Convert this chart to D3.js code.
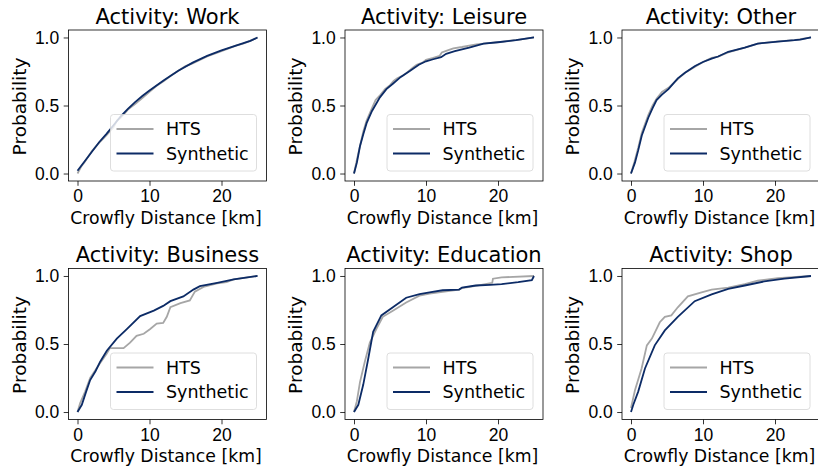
<!DOCTYPE html>
<html>
<head>
<meta charset="utf-8">
<script src="https://cdn.jsdelivr.net/npm/d3@7"></script>
<style>
  body { margin: 0; background: #fff; }
  svg { font-family: "DejaVu Sans", sans-serif; }
  .axis path, .axis line { stroke: #000; stroke-width: 0.8; }
  .axis text { font-size: 17.5px; fill: #000; }
</style>
</head>
<body>
<div id="chart"></div>
<script>
// panel titles, left-to-right, top-to-bottom
var activities = ["Work", "Leisure", "Other", "Business", "Education", "Shop"];

var xTicks = [0, 10, 20];
var yTicks = [0.0, 0.5, 1.0];

// [crowfly distance km, cumulative probability]
var workHts = [[0,0.0],[0.5,0.05],[1,0.085],[2,0.165],[3,0.225],[4,0.28],[5,0.34],[5.5,0.39],[6,0.41],[7,0.47],[8,0.51],[9,0.555],[10,0.6],[11,0.645],[12,0.68],[13,0.72],[14,0.755],[15,0.79],[16,0.81],[18,0.86],[20,0.9],[22,0.94],[23,0.955],[24,0.975],[25,1.0]];
var workSyn = [[0,0.02],[1,0.09],[2,0.16],[3,0.23],[4,0.29],[5,0.355],[6,0.42],[7,0.475],[8,0.525],[9,0.57],[10,0.61],[12,0.685],[14,0.755],[16,0.815],[18,0.865],[20,0.905],[22,0.94],[24,0.975],[25,1.0]];

var leisureHts = [[0,0],[0.4,0.1],[0.9,0.22],[1.3,0.31],[1.75,0.39],[2.5,0.48],[3,0.54],[3.7,0.58],[4.3,0.62],[5,0.65],[5.5,0.68],[6,0.7],[6.8,0.72],[7.3,0.74],[8.2,0.78],[8.7,0.8],[9.5,0.815],[10,0.835],[11,0.85],[11.9,0.865],[12.2,0.89],[13,0.905],[13.8,0.92],[15,0.93],[17,0.95],[19,0.96],[20.7,0.97],[23,0.985],[25,1.0]];
var leisureSyn = [[0,0],[0.4,0.08],[0.83,0.2],[1.3,0.29],[1.75,0.37],[2.5,0.46],[3.6,0.56],[4.5,0.62],[5.4,0.66],[6.5,0.71],[7.8,0.755],[9,0.8],[10,0.825],[11,0.84],[12.1,0.855],[12.8,0.88],[14,0.9],[16,0.925],[18,0.955],[20,0.965],[22.5,0.98],[25,1.0]];

var otherHts = [[0,0],[0.5,0.09],[1,0.19],[1.5,0.3],[2.4,0.43],[3,0.5],[3.55,0.55],[4.3,0.6],[5.2,0.63],[6.5,0.695],[7.5,0.74],[8.9,0.785],[10,0.82],[11.2,0.85],[12.1,0.86],[13.5,0.89],[15.8,0.925],[17.6,0.955],[20.4,0.972],[22.7,0.98],[25,1.0]];
var otherSyn = [[0,0],[0.55,0.08],[1,0.17],[1.5,0.28],[2.4,0.41],[3,0.48],[3.55,0.54],[4.3,0.58],[5.2,0.62],[6.5,0.70],[7.5,0.74],[8.9,0.79],[10,0.82],[11.2,0.845],[12.1,0.86],[13.5,0.895],[15.8,0.925],[17.6,0.955],[20.4,0.97],[22.7,0.98],[23.5,0.985],[25,1.0]];

var businessHts = [[0,0],[0.37,0.066],[1.06,0.15],[1.76,0.25],[3.15,0.36],[4.07,0.43],[4.5,0.47],[6.4,0.47],[7.3,0.51],[8.2,0.56],[9.2,0.575],[10.1,0.61],[11,0.65],[11.9,0.655],[12.4,0.70],[12.9,0.77],[14.3,0.80],[15.6,0.82],[16.3,0.885],[17.5,0.92],[19.4,0.945],[20.7,0.955],[21.7,0.975],[25,1.0]];
var businessSyn = [[0,0],[0.6,0.053],[1.2,0.15],[1.76,0.235],[2.5,0.3],[3.15,0.37],[4.07,0.45],[5.46,0.54],[6.85,0.61],[8.7,0.705],[10.6,0.745],[11.9,0.78],[12.9,0.815],[14.7,0.85],[16.1,0.9],[17,0.925],[19.4,0.95],[21.7,0.975],[25,1.0]];

var educationHts = [[0,0],[0.4,0.08],[0.83,0.22],[1.5,0.37],[2.2,0.51],[3.1,0.61],[4,0.70],[5.4,0.745],[7.25,0.805],[9.1,0.855],[10.5,0.87],[14.6,0.9],[15,0.91],[16.9,0.927],[19.2,0.95],[19.3,0.98],[20.5,0.99],[25,1.0]];
var educationSyn = [[0,0],[0.6,0.053],[1.28,0.2],[1.97,0.39],[2.66,0.59],[3.8,0.71],[5.4,0.77],[7.25,0.84],[9.1,0.867],[10.5,0.88],[12.3,0.895],[14.6,0.9],[15,0.915],[16.9,0.93],[18.9,0.935],[20.5,0.94],[22.8,0.955],[24.7,0.97],[25,1.0]];

var shopHts = [[0,0.03],[0.55,0.16],[1.47,0.32],[2.2,0.49],[2.9,0.54],[4,0.66],[4.7,0.70],[5.6,0.71],[6.5,0.77],[7.9,0.85],[9.8,0.88],[11.2,0.9],[13.5,0.915],[15.8,0.94],[17.6,0.965],[20.4,0.985],[25,1.0]];
var shopSyn = [[0,0],[0.32,0.053],[1,0.15],[1.94,0.32],[3.3,0.49],[4.7,0.6],[6.5,0.7],[8.85,0.815],[11.2,0.865],[13.5,0.905],[15.8,0.93],[18.5,0.96],[21.3,0.98],[25,1.0]];

var htsSeries = [workHts, leisureHts, otherHts, businessHts, educationHts, shopHts];
var synSeries = [workSyn, leisureSyn, otherSyn, businessSyn, educationSyn, shopSyn];

var htsColor = "#a6a6a6",
    synColor = "#0c2b66";

var W = 818, H = 468;
var colLeft = [68.5, 345, 622],
    rowTop = [30, 268.5],
    pw = 198, ph = 151;

var svg = d3.select("#chart").append("svg")
    .attr("width", W)
    .attr("height", H);

var x = d3.scaleLinear().domain([-1.25, 26.25]).range([0, pw]);
var y = d3.scaleLinear().domain([-0.055, 1.055]).range([ph, 0]);

var line = d3.line()
    .x(function(d) { return x(d[0]); })
    .y(function(d) { return y(d[1]); });

activities.forEach(function(name, i) {
  var col = i % 3, row = Math.floor(i / 3);
  var g = svg.append("g")
      .attr("transform", "translate(" + colLeft[col] + "," + rowTop[row] + ")");

  g.append("path")
      .datum(htsSeries[i])
      .attr("fill", "none")
      .attr("stroke", htsColor)
      .attr("stroke-width", 1.8)
      .attr("d", line);

  g.append("path")
      .datum(synSeries[i])
      .attr("fill", "none")
      .attr("stroke", synColor)
      .attr("stroke-width", 1.8)
      .attr("d", line);

  // spines
  g.append("rect")
      .attr("width", pw)
      .attr("height", ph)
      .attr("fill", "none")
      .attr("stroke", "#000")
      .attr("stroke-width", 0.8);

  g.append("g")
      .attr("class", "axis")
      .attr("transform", "translate(0," + ph + ")")
      .call(d3.axisBottom(x).tickValues(xTicks).tickSize(4.8).tickPadding(4).tickFormat(d3.format("d")))
      .call(function(a) { a.select(".domain").remove(); });

  g.append("g")
      .attr("class", "axis")
      .call(d3.axisLeft(y).tickValues(yTicks).tickSize(4.8).tickPadding(4.5).tickFormat(d3.format(".1f")))
      .call(function(a) { a.select(".domain").remove(); });

  g.append("text")
      .attr("x", pw / 2)
      .attr("y", -6.5)
      .attr("text-anchor", "middle")
      .style("font-size", "21px")
      .text("Activity: " + name);

  g.append("text")
      .attr("x", pw / 2 - 1.5)
      .attr("y", ph + 42.5)
      .attr("text-anchor", "middle")
      .style("font-size", "17.3px")
      .text("Crowfly Distance [km]");

  g.append("text")
      .attr("transform", "translate(-43," + (ph / 2 + 1) + ") rotate(-90)")
      .attr("text-anchor", "middle")
      .style("font-size", "18.5px")
      .text("Probability");

  // legend
  var lg = g.append("g")
      .attr("transform", "translate(" + (pw - 10 - 146) + "," + (ph - 10 - 56.5) + ")");
  lg.append("rect")
      .attr("width", 146)
      .attr("height", 56.5)
      .attr("rx", 3)
      .attr("fill", "#fff")
      .attr("fill-opacity", 0.8)
      .attr("stroke", "#d6d6d6")
      .attr("stroke-width", 0.8);
  [["HTS", htsColor], ["Synthetic", synColor]].forEach(function(item, k) {
    var yy = 14.5 + k * 24.5;
    lg.append("line")
        .attr("x1", 6).attr("x2", 43)
        .attr("y1", yy).attr("y2", yy)
        .attr("stroke", item[1])
        .attr("stroke-width", 1.8);
    lg.append("text")
        .attr("x", 55.5)
        .attr("y", yy + 6.2)
        .style("font-size", "17.5px")
        .text(item[0]);
  });
});
</script>
</body>
</html>
